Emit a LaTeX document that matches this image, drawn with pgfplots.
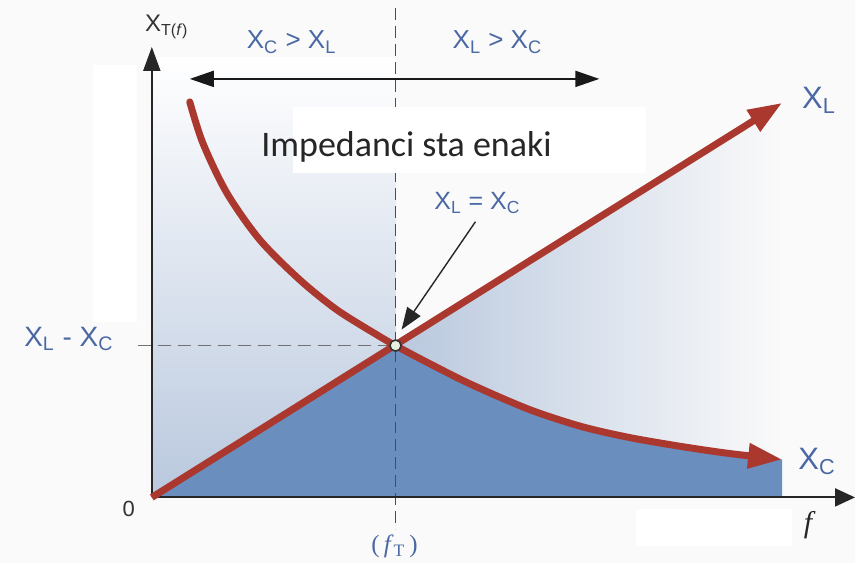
\documentclass[border=0pt]{standalone}
\usepackage{fontspec}
\setmainfont{Liberation Sans}
\newfontfamily\seriffont{Liberation Serif}
\newfontfamily\calfont{Carlito}
\usepackage{pgfplots}
\pgfplotsset{compat=1.18}
\usetikzlibrary{arrows.meta}
\definecolor{redc}{RGB}{170,56,46}
\definecolor{bluetxt}{RGB}{74,104,163}
\definecolor{darkfill}{RGB}{106,142,190}
\definecolor{lightfill}{RGB}{185,200,222}
\definecolor{bg}{RGB}{250,250,250}
\definecolor{ptfill}{RGB}{232,238,224}
\newcommand\sub[1]{\textsubscript{#1}}
\begin{document}
\begin{tikzpicture}
\begin{axis}[scale only axis, width=428pt, height=282pt,
  xmin=-152, xmax=704, ymin=-66, ymax=498, hide axis, clip=false]
% background
\fill[bg] (rel axis cs:0,0) rectangle (rel axis cs:1,1);
\fill[white] (axis cs:-59,176) rectangle (axis cs:-15,433);
\fill[white] (axis cs:485,-49) rectangle (axis cs:641,-12);
% light regions
\addplot[draw=none, top color=white, bottom color=lightfill] coordinates {(0,0)(0,440)(244,440)(244,0)} -- cycle;
\addplot[draw=none, left color=lightfill, right color=bg] coordinates {(244,0)(244,152)(631,395)(631,0)} -- cycle;
% dark region below min(XL, XC)
\addplot[draw=none, fill=darkfill] coordinates {(0,0)(244,152)(278,134)(320,113)(378,88)(430,71)(478,60)(530,51)(578,44)(631,38)(631,0)} -- cycle;
% dashed guides
\draw[black!70, line width=0.8pt, dash pattern=on 6pt off 3pt] (axis cs:244,490) -- (axis cs:244,-32);
\draw[black!55, line width=0.8pt, dash pattern=on 6.5pt off 3.5pt] (axis cs:-14,152) -- (axis cs:244,152);
% white box behind text
\fill[white] (axis cs:141,325) rectangle (axis cs:495,391);
% axes
\draw[black!85, line width=1pt, -{Triangle[length=12pt,width=8.5pt]}] (axis cs:0,0) -- (axis cs:0,451);
\draw[black!85, line width=1pt, -{Triangle[length=10pt,width=9pt]}] (axis cs:0,0) -- (axis cs:704,0);
% XL and XC
\addplot[redc, line width=3.5pt, -{Triangle[length=17pt,width=12pt]}] coordinates {(0,0)(631,395)};
\addplot[redc, line width=3.5pt, smooth, line cap=round, -{Triangle[length=17pt,width=12pt]}] coordinates {(38,396)(51,355)(75,305)(108,258)(148,218)(185,188)(225,163)(244,152)(278,134)(320,113)(378,88)(430,71)(478,60)(530,51)(578,44)(631,38)};
% resonance point
\addplot[only marks, mark=*, mark size=2.8pt, mark options={fill=ptfill, draw=black!80, line width=0.8pt}] coordinates {(244,152)};
% arrows
\draw[black!85, line width=0.7pt, -{Triangle[length=11pt,width=8pt]}] (axis cs:324,276) -- (axis cs:250,168);
\draw[black!90, line width=1pt, {Triangle[length=12pt,width=8pt]}-{Triangle[length=12pt,width=8pt]}] (axis cs:38,419) -- (axis cs:448,419);
% texts
\node[black!80, anchor=base, font=\fontsize{12}{14}\selectfont] at (axis cs:15,466) {X\sub{T(\textit{f})}};
\node[bluetxt, anchor=base, font=\fontsize{13}{15}\selectfont] at (axis cs:140,449) {X\sub{C} > X\sub{L}};
\node[bluetxt, anchor=base, font=\fontsize{13}{15}\selectfont] at (axis cs:346,449) {X\sub{L} > X\sub{C}};
\node[black!85, anchor=base, font=\calfont\fontsize{18}{21}\selectfont] at (axis cs:255,341) {Impedanci sta enaki};
\node[bluetxt, anchor=base, font=\fontsize{12.5}{15}\selectfont] at (axis cs:326,288) {X\sub{L} = X\sub{C}};
\node[bluetxt, anchor=base, font=\fontsize{15.5}{18}\selectfont] at (axis cs:668,389) {X\sub{L}};
\node[bluetxt, anchor=base, font=\fontsize{15.5}{18}\selectfont] at (axis cs:666,28) {X\sub{C}};
\node[bluetxt, anchor=base, font=\fontsize{14}{17}\selectfont] at (axis cs:-83,151) {X\sub{L} - X\sub{C}};
\node[black!80, font=\fontsize{11}{13}\selectfont] at (axis cs:-23,-12) {0};
\node[bluetxt, font=\seriffont\fontsize{12.5}{15}\selectfont] at (axis cs:243,-49) {(\,\textit{f}\sub{T}\,)};
\node[black!85, font=\seriffont\itshape\fontsize{15}{18}\selectfont] at (axis cs:657,-28) {f};
\end{axis}
\end{tikzpicture}
\end{document}
